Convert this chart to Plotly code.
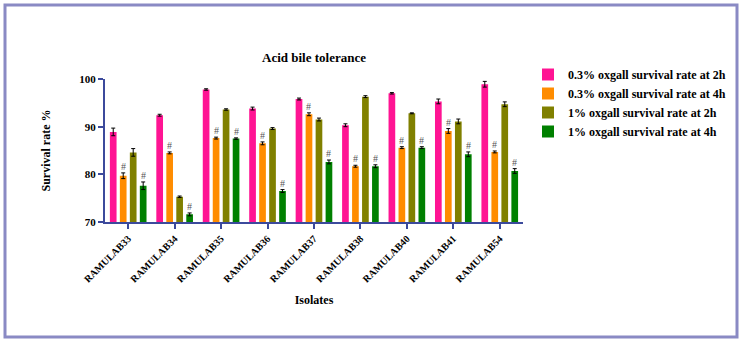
import plotly.graph_objects as go

isolates = ["RAMULAB33", "RAMULAB34", "RAMULAB35", "RAMULAB36", "RAMULAB37",
            "RAMULAB38", "RAMULAB40", "RAMULAB41", "RAMULAB54"]
series_names = ["0.3% oxgall survival rate at 2h", "0.3% oxgall survival rate at 4h",
                "1% oxgall survival rate at 2h", "1% oxgall survival rate at 4h"]
ox03_2h = [88.9, 92.4, 97.8, 93.8, 95.8, 90.3, 97.0, 95.3, 98.9]
ox03_4h = [79.7, 84.5, 87.6, 86.5, 92.6, 81.7, 85.6, 89.1, 84.7]
ox1_2h = [84.6, 75.3, 93.6, 89.6, 91.5, 96.3, 92.8, 91.1, 94.7]
ox1_4h = [77.6, 71.6, 87.5, 76.5, 82.6, 81.7, 85.6, 84.2, 80.7]
err03_2h = [0.8, 0.2, 0.15, 0.3, 0.2, 0.3, 0.15, 0.5, 0.6]
err03_4h = [0.6, 0.2, 0.2, 0.3, 0.3, 0.2, 0.2, 0.5, 0.2]
err1_2h = [0.8, 0.15, 0.15, 0.2, 0.3, 0.2, 0.1, 0.5, 0.5]
err1_4h = [0.8, 0.3, 0.15, 0.3, 0.4, 0.3, 0.2, 0.5, 0.5]
y_ticks = [70, 80, 90, 100]
marked = [False, True, False, True]  # series with "#" marks
colors = ["#FF1493", "#FF8C00", "#808000", "#008000"]

values = [ox03_2h, ox03_4h, ox1_2h, ox1_4h]
errors = [err03_2h, err03_4h, err1_2h, err1_4h]

W, H = 743, 344
L, R, T, B = 105, 220, 79, 122
plot_w = W - L - R
plot_h = H - T - B
cat_px = plot_w / len(isolates)

bar_w = 0.144
step = 0.215
offsets = [-0.395 + i * step for i in range(4)]

fig = go.Figure()
for i in range(4):
    fig.add_trace(go.Bar(
        x=isolates, y=values[i], name="<b>" + series_names[i] + "</b>",
        marker=dict(color=colors[i], line=dict(width=0)),
        width=bar_w, offset=offsets[i],
        error_y=dict(type="data", array=errors[i], color="black", thickness=1, width=2),
    ))

font_fam = "Liberation Serif"
annotations = []
for i in range(4):
    if not marked[i]:
        continue
    for c, v, e in zip(isolates, values[i], errors[i]):
        annotations.append(dict(
            x=c, y=v + e, xref="x", yref="y", text="#", showarrow=False,
            xshift=(offsets[i] + bar_w / 2) * cat_px, yanchor="bottom", yshift=-1,
            font=dict(family=font_fam, size=10, color="#555555"),
        ))

annotations.append(dict(x=0.5, y=(H - B - 57) / plot_h, xref="paper", yref="paper",
                        text="<b>Acid bile tolerance</b>", showarrow=False, yanchor="middle",
                        font=dict(family=font_fam, size=13, color="black")))

fig.update_layout(
    width=W, height=H,
    margin=dict(l=L, r=R, t=T, b=B),
    paper_bgcolor="white", plot_bgcolor="white",
    barmode="group",
    showlegend=True,
    legend=dict(x=(528 - L) / plot_w, y=(H - B - 60) / plot_h, xanchor="left", yanchor="top",
                font=dict(family=font_fam, size=12, color="black"),
                tracegroupgap=0, itemwidth=30),
    annotations=annotations,
    xaxis=dict(range=[-0.5, len(isolates) - 0.5], showline=True, linecolor="#3c4a9c", linewidth=2,
               ticks="outside", tickcolor="#3c4a9c", tickwidth=2, ticklen=5,
               tickmode="array", tickvals=isolates, ticktext=["<b>" + s + "</b>" for s in isolates],
               tickangle=-45, tickfont=dict(family=font_fam, size=10, color="black"),
               title=dict(text="<b>Isolates</b>", font=dict(family=font_fam, size=12, color="black"),
                          standoff=12),
               showgrid=False, zeroline=False, automargin=False),
    yaxis=dict(range=[70, 100], tickmode="array", tickvals=y_ticks,
               ticktext=["<b>%d</b>" % v for v in y_ticks], showline=True, linecolor="#3c4a9c",
               linewidth=2, ticks="outside", tickcolor="#3c4a9c", tickwidth=2, ticklen=5,
               tickfont=dict(family=font_fam, size=11, color="black"),
               title=dict(text="<b>Survival rate %</b>", font=dict(family=font_fam, size=12, color="black"),
                          standoff=26),
               showgrid=False, zeroline=False, automargin=False),
    shapes=[dict(type="rect", xref="paper", yref="paper",
                 x0=(5 - L) / plot_w, x1=(737 - L) / plot_w,
                 y0=(H - B - 337) / plot_h, y1=(H - B - 5) / plot_h,
                 line=dict(color="#8a8ac4", width=3), layer="below")],
)

fig.write_html("out.html", config={"displayModeBar": False},
               post_script="document.body.style.margin='0';")
